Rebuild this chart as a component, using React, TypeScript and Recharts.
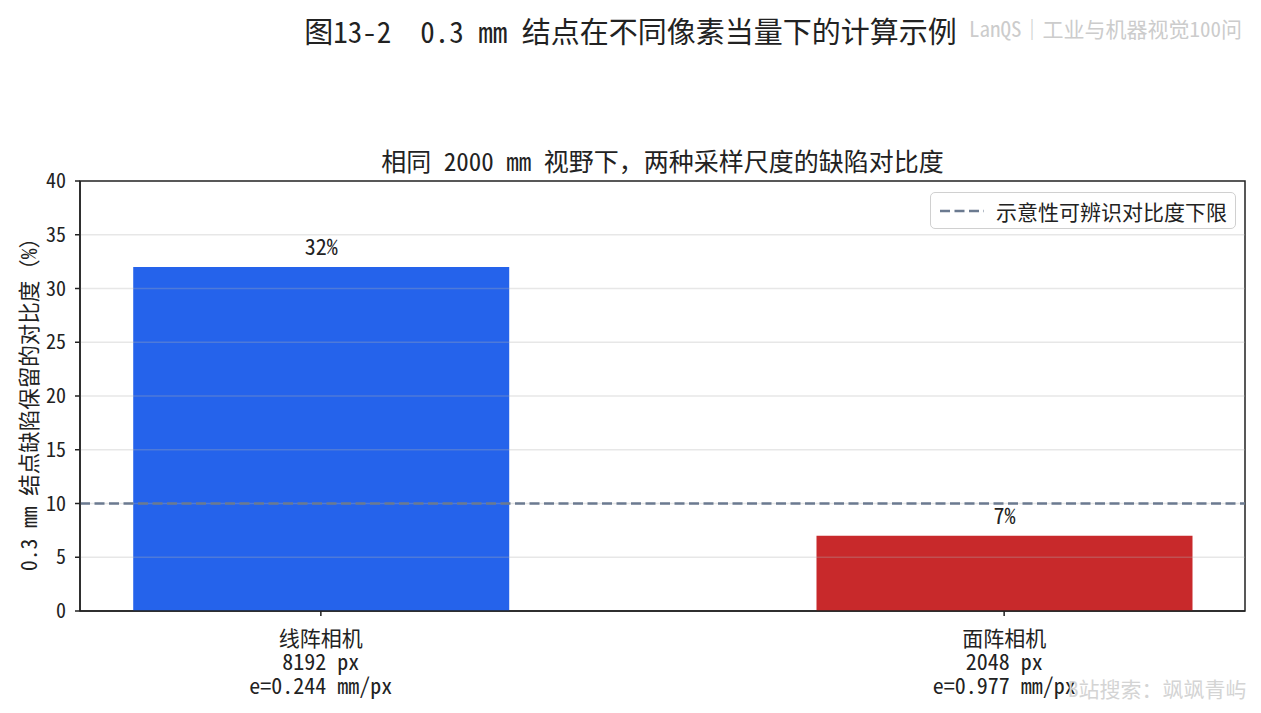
import React from 'react';
import { BarChart, Bar, XAxis, YAxis, ReferenceLine, ReferenceArea, Cell, LabelList } from 'recharts';

const categories = ['线阵相机', '面阵相机'];
const pixelCounts = ['8192 px', '2048 px'];
const pixelEquivalents = ['e=0.244 mm/px', 'e=0.977 mm/px'];
const contrastValues = [32, 7];
const barColors = ['#2563eb', '#c8292b'];
const thresholdValue = 10;
const yTicks = [0, 5, 10, 15, 20, 25, 30, 35, 40];
const gridTicks = [5, 10, 15, 20, 25, 30, 35];
const xPositions = [0, 1];
const thresholdLabel = '示意性可辨识对比度下限';
const suptitle = '图13-2  0.3 mm 结点在不同像素当量下的计算示例';
const subtitle = '相同 2000 mm 视野下，两种采样尺度的缺陷对比度';
const yLabel = '0.3 mm 结点缺陷保留的对比度（%）';
const topMark = 'LanQS｜工业与机器视觉100问';
const bottomMark = 'B站搜索：飒飒青屿';

const data = categories.map((c, i) => ({
  x: xPositions[i],
  name: c,
  px: pixelCounts[i],
  e: pixelEquivalents[i],
  value: contrastValues[i],
}));

const FONT = "'Noto Sans Mono CJK SC', 'Noto Sans CJK SC', sans-serif";
const INK = '#222222';

const XTick = (props: any) => {
  const { x, y, payload } = props;
  const d = data.find((r) => r.x === payload.value);
  if (!d) return null;
  return (
    <text x={x} y={y} textAnchor="middle" fill={INK} fontFamily={FONT}>
      <tspan x={x} dy={30} fontSize={21}>{d.name}</tspan>
      <tspan x={x} dy={24} fontSize={22}>{d.px}</tspan>
      <tspan x={x} dy={24} fontSize={22}>{d.e}</tspan>
    </text>
  );
};

const YLabel = () => (
  <text x={27} y={399} transform="rotate(-90 27 399)" textAnchor="middle" dominantBaseline="central" fontSize={21.5} fill={INK} fontFamily={FONT}>
    {yLabel}
  </text>
);

export default function App() {
  return (
    <div style={{ position: 'absolute', left: 0, top: 0, width: 1261, height: 713, background: '#fff', fontFamily: FONT }}>
      <div style={{ position: 'absolute', left: 0, width: 1261, top: 11, textAlign: 'center', fontSize: 29, lineHeight: '38px', color: INK, whiteSpace: 'pre' }}>
        {suptitle}
      </div>
      <div style={{ position: 'absolute', left: 969, top: 13, fontSize: 21, lineHeight: '30px', color: '#cccccc', whiteSpace: 'nowrap' }}>
        {topMark}
      </div>
      <div style={{ position: 'absolute', left: 80, width: 1165, top: 142, textAlign: 'center', fontSize: 25, lineHeight: '36px', color: INK, whiteSpace: 'pre' }}>
        {subtitle}
      </div>
      <BarChart width={1261} height={713} data={data} margin={{ top: 181, right: 16, bottom: 12, left: 20 }}>
        <XAxis
          dataKey="x"
          type="number"
          domain={[-0.3525, 1.3525]}
          ticks={xPositions}
          allowDataOverflow
          height={90}
          tickSize={5}
          tickMargin={0}
          tick={<XTick />}
          tickLine={{ stroke: INK, strokeWidth: 1.5 }}
          axisLine={{ stroke: INK, strokeWidth: 1.5 }}
        />
        <YAxis
          type="number"
          domain={[0, 40]}
          ticks={yTicks}
          width={60}
          tickSize={5}
          tickMargin={9}
          tick={{ fontSize: 20, fill: INK, fontFamily: FONT }}
          tickLine={{ stroke: INK, strokeWidth: 1.5 }}
          axisLine={{ stroke: INK, strokeWidth: 1.5 }}
          label={<YLabel />}
        />
        <Bar dataKey="value" barSize={376} isAnimationActive={false}>
          {data.map((d, i) => (
            <Cell key={d.name} fill={barColors[i]} />
          ))}
          <LabelList dataKey="value" position="top" offset={12} formatter={(v: any) => `${v}%`} fontSize={22} fill={INK} fontFamily={FONT} />
        </Bar>
        {gridTicks.map((t) => (
          <ReferenceLine key={t} y={t} stroke="#b0b0b0" strokeOpacity={0.3} strokeWidth={1.5} />
        ))}
        <ReferenceLine y={thresholdValue} stroke="#6b7a90" strokeWidth={2.5} strokeDasharray="10 4.5" />
        <ReferenceArea x1={-0.3525} x2={1.3525} y1={0} y2={40} fill="none" stroke={INK} strokeWidth={1.5} ifOverflow="extendDomain" />
      </BarChart>
      <div style={{
        position: 'absolute', left: 930, top: 192, boxSizing: 'border-box', width: 306, height: 37, border: '1.5px solid #d0d0d0', borderRadius: 5,
        background: 'rgba(255,255,255,0.85)', display: 'flex', alignItems: 'center', fontSize: 21, color: INK, whiteSpace: 'nowrap',
      }}>
        <svg width={58} height={20} style={{ marginLeft: 7 }}>
          <line x1={2} y1={10} x2={46} y2={10} stroke="#6b7a90" strokeWidth={2.5} strokeDasharray="10 4.5" />
        </svg>
        <span>{thresholdLabel}</span>
      </div>
      <div style={{ position: 'absolute', left: 1068, top: 673, fontSize: 21, lineHeight: '30px', color: '#d4d4d4', whiteSpace: 'nowrap' }}>
        {bottomMark}
      </div>
    </div>
  );
}
